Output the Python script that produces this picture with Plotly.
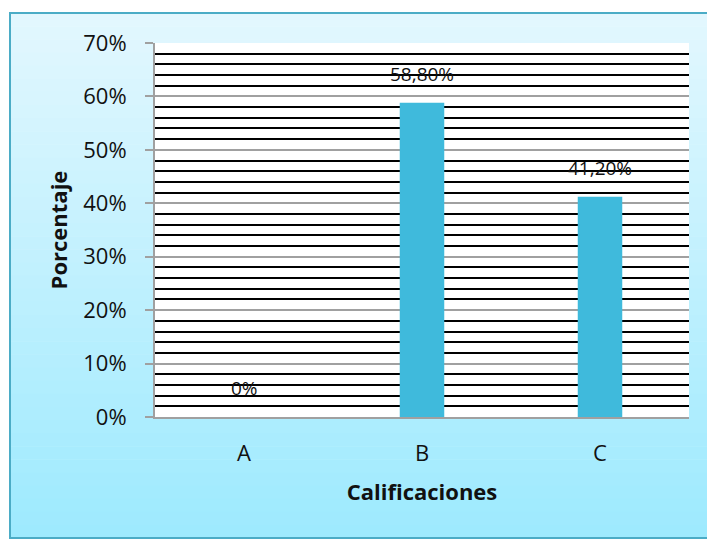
import plotly.graph_objects as go

categories = ["A", "B", "C"]
values = [0.0, 58.8, 41.2]
y_ticks = [0, 10, 20, 30, 40, 50, 60, 70]
y_tick_labels = ["0%", "10%", "20%", "30%", "40%", "50%", "60%", "70%"]


def fmt(v):
    if v == 0:
        return "0%"
    return f"{v:.2f}%".replace(".", ",")


labels = [fmt(v) for v in values]

W, H = 707, 540
L, R, T, B = 155, 689, 43, 417


def px_x(p):
    return (p - L) / (R - L)


def px_y(p):
    return (B - p) / (B - T)


FONT = "Open Sans"
TXT = "#111111"

fig = go.Figure()
fig.add_trace(go.Bar(
    x=categories, y=values, width=0.25,
    marker=dict(color="#3fbadc", line=dict(color="#2a8fad", width=0)),
    hoverinfo="skip",
))

shapes = []
top_c = (0xE2, 0xF7, 0xFE)
bot_c = (0x9E, 0xEA, 0xFE)
n = 40
y0p, y1p = 13, 538
for i in range(n):
    a = y0p + (y1p - y0p) * i / n
    b = y0p + (y1p - y0p) * (i + 1) / n + 0.5
    t = i / (n - 1)
    c = tuple(int(round(top_c[k] + (bot_c[k] - top_c[k]) * t)) for k in range(3))
    shapes.append(dict(type="rect", xref="paper", yref="paper", layer="below",
                       x0=px_x(10), x1=px_x(760), y0=px_y(b), y1=px_y(a),
                       fillcolor="rgb(%d,%d,%d)" % c, line=dict(width=0)))
shapes.append(dict(type="rect", xref="paper", yref="paper", layer="below",
                   x0=px_x(10), x1=px_x(760), y0=px_y(538), y1=px_y(13),
                   fillcolor="rgba(0,0,0,0)", line=dict(color="#4bacc6", width=2)))
shapes.append(dict(type="rect", xref="paper", yref="paper", layer="below",
                   x0=0, x1=1, y0=0, y1=1, fillcolor="white", line=dict(width=0)))

annotations = []
for c, v, lab in zip(categories, values, labels):
    annotations.append(dict(x=c, y=v, xref="x", yref="y", text=lab, showarrow=False,
                            yanchor="bottom", yshift=14,
                            font=dict(family=FONT, size=19, color=TXT)))

fig.update_layout(
    width=W, height=H,
    margin=dict(l=L, r=W - R, t=T, b=H - B, pad=0),
    paper_bgcolor="white",
    plot_bgcolor="rgba(0,0,0,0)",
    showlegend=False,
    shapes=shapes,
    annotations=annotations,
    font=dict(family=FONT, size=22, color=TXT),
    xaxis=dict(
        showline=True, linecolor="#a0a0a0", linewidth=2,
        showgrid=False, ticks="", tickfont=dict(size=22),
        ticklabelstandoff=16,
        title=dict(text="<b>Calificaciones</b>", font=dict(size=22), standoff=18),
        fixedrange=True,
    ),
    yaxis=dict(
        range=[0, 70], tickvals=y_ticks, ticktext=y_tick_labels,
        showline=True, linecolor="#a0a0a0", linewidth=2,
        ticks="outside", ticklen=8, tickcolor="#a0a0a0", tickwidth=2,
        ticklabelstandoff=14,
        showgrid=True, gridcolor="#a0a0a0", gridwidth=2,
        minor=dict(dtick=2, showgrid=True, gridcolor="black", gridwidth=2, ticks=""),
        zeroline=False, tickfont=dict(size=22),
        title=dict(text="<b>Porcentaje</b>", font=dict(size=22), standoff=10),
        fixedrange=True,
    ),
)

fig.write_html(
    "out.html",
    config={"displayModeBar": False},
    post_script="document.body.style.margin='0';document.body.style.overflow='hidden';",
)
